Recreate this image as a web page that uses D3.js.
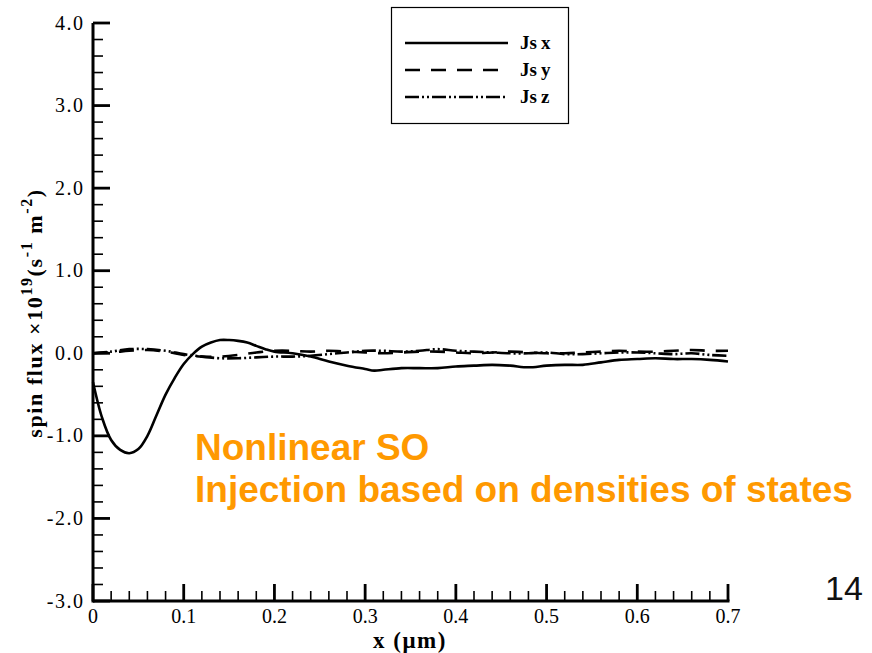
<!DOCTYPE html>
<html>
<head>
<meta charset="utf-8">
<script src="https://cdn.jsdelivr.net/npm/d3@7"></script>
<style>
  html, body { margin: 0; padding: 0; background: #fff; }
  svg { display: block; }
</style>
</head>
<body>
<svg id="chart" width="872" height="653"></svg>
<script>
// Spin flux components along x (µm), in units of 1e19 s^-1 m^-2
const xJsx = [0, 0.01, 0.02, 0.03, 0.04, 0.05, 0.06, 0.07, 0.08, 0.09, 0.10, 0.11, 0.12, 0.13, 0.14, 0.15, 0.16, 0.17, 0.18, 0.19, 0.20,
  0.22, 0.24, 0.26, 0.28, 0.30, 0.31, 0.32, 0.34, 0.36, 0.38, 0.40, 0.42, 0.44, 0.46, 0.48, 0.50, 0.52, 0.54, 0.56, 0.58, 0.60,
  0.62, 0.64, 0.66, 0.68, 0.70];
const jsx = [-0.35, -0.78, -1.05, -1.17, -1.21, -1.16, -1.00, -0.75, -0.50, -0.30, -0.13, -0.01, 0.08, 0.13, 0.16, 0.16, 0.15, 0.13, 0.09, 0.05, 0.02,
  0.00, -0.04, -0.10, -0.15, -0.19, -0.21, -0.20, -0.18, -0.18, -0.18, -0.16, -0.15, -0.14, -0.15, -0.17, -0.15, -0.14, -0.14, -0.11, -0.08, -0.07,
  -0.06, -0.07, -0.07, -0.08, -0.10];

const xYZ = [0, 0.02, 0.04, 0.06, 0.08, 0.10, 0.12, 0.14, 0.16, 0.18, 0.20, 0.22, 0.24, 0.26, 0.28, 0.30, 0.32, 0.34, 0.36,
  0.38, 0.40, 0.42, 0.44, 0.46, 0.48, 0.50, 0.52, 0.54, 0.56, 0.58, 0.60, 0.62, 0.64, 0.66, 0.68, 0.70];
const jsy = [0.00, 0.01, 0.03, 0.04, 0.02, -0.02, -0.04, -0.04, -0.02, 0.01, 0.03, 0.03, 0.02, 0.03, 0.02, 0.01, 0.00, 0.01, 0.02,
  0.02, 0.01, 0.00, 0.01, 0.02, 0.01, 0.00, 0.00, 0.01, 0.02, 0.03, 0.02, 0.02, 0.03, 0.04, 0.03, 0.03];
const jsz = [0.00, 0.02, 0.05, 0.05, 0.03, -0.01, -0.04, -0.06, -0.06, -0.05, -0.04, -0.04, -0.03, -0.01, 0.01, 0.03, 0.03, 0.02, 0.03,
  0.05, 0.03, 0.02, 0.01, 0.00, 0.00, 0.01, -0.01, -0.01, 0.00, 0.01, 0.01, 0.00, -0.01, 0.00, -0.02, -0.03];

const xTicks = [0, 0.1, 0.2, 0.3, 0.4, 0.5, 0.6, 0.7];
const xTickLabels = ["0", "0.1", "0.2", "0.3", "0.4", "0.5", "0.6", "0.7"];
const yTicks = [-3, -2, -1, 0, 1, 2, 3, 4];
const yTickLabels = ["-3.0", "-2.0", "-1.0", "0.0", "1.0", "2.0", "3.0", "4.0"];

const seriesNames = ["Js", "Js", "Js"];
const seriesSubs = ["x", "y", "z"];

const svg = d3.select("#chart");
const serif = "'Liberation Serif', 'Times New Roman', serif";
const sans = "'Liberation Sans', Arial, sans-serif";

const x = d3.scaleLinear().domain([0, 0.7]).range([93, 728]);
const y = d3.scaleLinear().domain([-3, 4]).range([601, 23]);

// Minor ticks, drawn inward
const xMinor = d3.range(0, 0.7001, 0.02).filter(v => !xTicks.some(t => Math.abs(t - v) < 1e-6));
const yMinor = d3.range(-3, 4.0001, 0.2).filter(v => !yTicks.some(t => Math.abs(t - v) < 1e-6));

const g = svg.append("g");

g.selectAll(".xminor").data(xMinor).join("line")
  .attr("x1", d => x(d)).attr("x2", d => x(d))
  .attr("y1", y(-3)).attr("y2", y(-3) - 10)
  .attr("stroke", "#000").attr("stroke-width", 1.6);
g.selectAll(".xmajor").data(xTicks).join("line")
  .attr("x1", d => x(d)).attr("x2", d => x(d))
  .attr("y1", y(-3)).attr("y2", y(-3) - 17)
  .attr("stroke", "#000").attr("stroke-width", 2.8);
g.selectAll(".yminor").data(yMinor).join("line")
  .attr("x1", x(0)).attr("x2", x(0) + 10)
  .attr("y1", d => y(d)).attr("y2", d => y(d))
  .attr("stroke", "#000").attr("stroke-width", 1.6);
g.selectAll(".ymajor").data(yTicks).join("line")
  .attr("x1", x(0)).attr("x2", x(0) + 17)
  .attr("y1", d => y(d)).attr("y2", d => y(d))
  .attr("stroke", "#000").attr("stroke-width", 2.8);

// Axis spines
g.append("line").attr("x1", x(0)).attr("x2", x(0.7) + 1.5).attr("y1", y(-3)).attr("y2", y(-3))
  .attr("stroke", "#000").attr("stroke-width", 3);
g.append("line").attr("x1", x(0)).attr("x2", x(0)).attr("y1", y(-3) + 1.5).attr("y2", y(4))
  .attr("stroke", "#000").attr("stroke-width", 3);

// Tick labels
g.selectAll(".xl").data(xTicks).join("text")
  .attr("x", d => x(d)).attr("y", 623)
  .attr("text-anchor", "middle")
  .attr("font-family", serif).attr("font-size", 20)
  .text((d, i) => xTickLabels[i]);
g.selectAll(".yl").data(yTicks).join("text")
  .attr("x", 84.5).attr("y", d => y(d) + 6.5)
  .attr("text-anchor", "end")
  .attr("font-family", serif).attr("font-size", 20).attr("letter-spacing", 1.5)
  .text((d, i) => yTickLabels[i]);

// Axis titles
g.append("text").attr("x", 410).attr("y", 648).attr("text-anchor", "middle")
  .attr("font-family", serif).attr("font-size", 23).attr("font-weight", "bold")
  .attr("letter-spacing", 1.5)
  .text("x (\u03bcm)");

const yt = g.append("text")
  .attr("transform", "translate(42,313) rotate(-90)")
  .attr("text-anchor", "middle")
  .attr("font-family", serif).attr("font-size", 22).attr("font-weight", "bold")
  .attr("letter-spacing", 1.6);
yt.append("tspan").text("spin flux \u00d710");
yt.append("tspan").attr("dy", -10).attr("font-size", 16).text("19");
yt.append("tspan").attr("dy", 10).text("(s");
yt.append("tspan").attr("dy", -10).attr("font-size", 16).text("-1");
yt.append("tspan").attr("dy", 10).text(" m");
yt.append("tspan").attr("dy", -10).attr("font-size", 16).text("-2");
yt.append("tspan").attr("dy", 10).text(")");

// Curves
const line = (xs) => d3.line().x((d, i) => x(xs[i])).y(d => y(d)).curve(d3.curveCatmullRom.alpha(0.5));
const styles = [
  { dash: null },
  { dash: "15,11" },
  { dash: "14,3,2,3,2,3" }
];
const series = [
  { xs: xJsx, ys: jsx },
  { xs: xYZ, ys: jsy },
  { xs: xYZ, ys: jsz }
];
series.forEach((s, k) => {
  g.append("path").datum(s.ys)
    .attr("d", line(s.xs))
    .attr("fill", "none").attr("stroke", "#000").attr("stroke-width", 2.6)
    .attr("stroke-linejoin", "round")
    .attr("stroke-dasharray", styles[k].dash);
});

// Legend
const lg = svg.append("g");
lg.append("rect").attr("x", 391.5).attr("y", 7.5).attr("width", 177).attr("height", 116)
  .attr("fill", "#fff").attr("stroke", "#000").attr("stroke-width", 1.2);
const legY = [43, 70, 97];
seriesSubs.forEach((sub, k) => {
  lg.append("line").attr("x1", 405).attr("x2", 508).attr("y1", legY[k]).attr("y2", legY[k])
    .attr("stroke", "#000").attr("stroke-width", 2.6)
    .attr("stroke-dasharray", styles[k].dash);
  const t = lg.append("text").attr("x", 520).attr("y", legY[k] + 6)
    .attr("font-family", serif).attr("font-size", 19).attr("font-weight", "bold");
  t.append("tspan").text(seriesNames[k]);
  t.append("tspan").attr("dx", 4).text(sub);
});

// Annotations
svg.append("text").attr("x", 195).attr("y", 460)
  .attr("font-family", sans).attr("font-size", 37).attr("font-weight", "bold")
  .attr("fill", "#FF9900").text("Nonlinear SO");
svg.append("text").attr("x", 195).attr("y", 502)
  .attr("font-family", sans).attr("font-size", 37).attr("font-weight", "bold")
  .attr("fill", "#FF9900").text("Injection based on densities of states");
svg.append("text").attr("x", 825).attr("y", 600)
  .attr("font-family", sans).attr("font-size", 34)
  .attr("fill", "#111").text("14");
</script>
</body>
</html>
